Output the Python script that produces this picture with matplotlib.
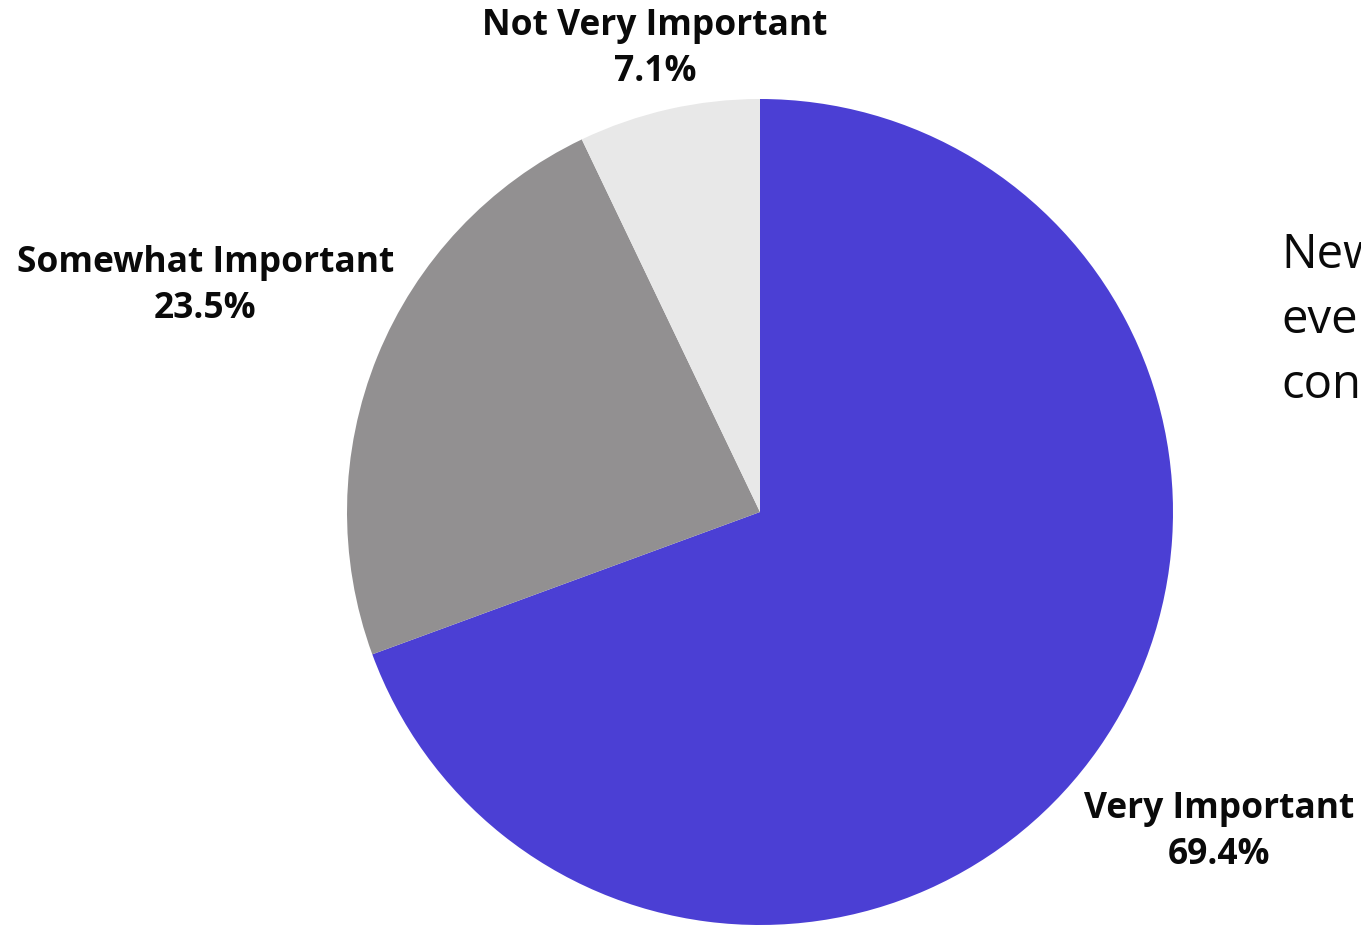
import numpy as np
import matplotlib.pyplot as plt

labels = ['Very Important', 'Somewhat Important', 'Not Very Important']
shares = [69.4, 23.5, 7.1]
colors = ['#4b3fd4', '#929091', '#e8e8e8']
side_text = ['New', 'ever', 'cont']

W, H = 1361, 926
fig = plt.figure(figsize=(W / 100, H / 100), dpi=100)
ax = fig.add_axes([0, 0, 1, 1])

cx, cy, r = 760, H - 512, 413
wedges, _ = ax.pie(shares, colors=colors, startangle=90, counterclock=False,
                   center=(cx, cy), radius=r, frame=True,
                   wedgeprops=dict(linewidth=0))
ax.set_xlim(0, W)
ax.set_ylim(0, H)
ax.set_aspect('equal')
ax.axis('off')

# label distance from the centre, in radii, per slice
dists = [1.355, 1.45, 1.15]
for w, lab, val, d in zip(wedges, labels, shares, dists):
    ang = np.deg2rad((w.theta1 + w.theta2) / 2)
    x = cx + d * r * np.cos(ang)
    y = cy + d * r * np.sin(ang)
    ax.text(x, y, f'{lab}\n{val}%', ha='center', va='center',
            fontsize=25.5, fontweight='bold', family='Open Sans',
            linespacing=1.38, color='#0a0a0a')

for i, line in enumerate(side_text):
    ax.text(1281, H - 268 - 65 * i, line, ha='left', va='baseline',
            fontsize=34, family='Open Sans', color='#0a0a0a')

fig.savefig('out.png', dpi=100)
